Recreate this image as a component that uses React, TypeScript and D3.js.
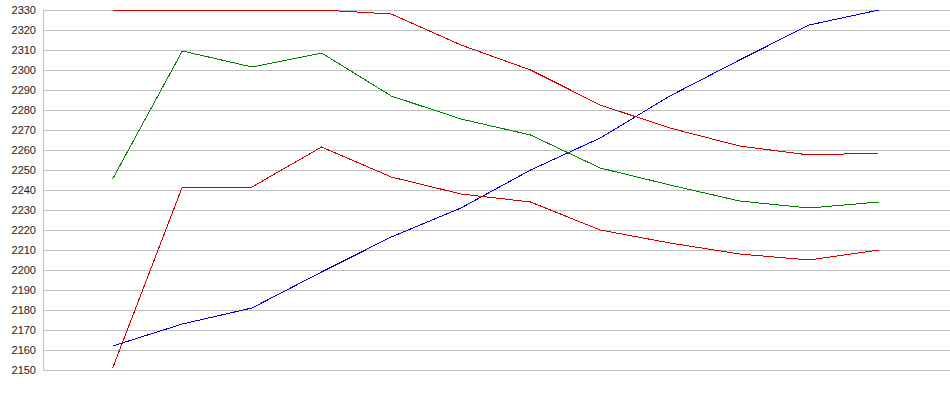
import React from 'react';
import * as d3 from 'd3';

// values, 12 points per series
const steps = d3.range(1, 13);
const redTop = [2330, 2330, 2330, 2330, 2328, 2312.5, 2300, 2282.5, 2271, 2262, 2257.5, 2258.5];
const green = [2245.5, 2309.5, 2301.5, 2308.5, 2287, 2275.5, 2267.5, 2251, 2242.5, 2234.5, 2231, 2234];
const redLow = [2151, 2241.5, 2241.5, 2261.5, 2246.5, 2238, 2234, 2220, 2213.5, 2208, 2205, 2210];
const blue = [2162, 2173, 2181, 2199, 2216.5, 2231, 2250, 2266, 2287, 2305, 2322.5, 2330];
const yTicks = d3.range(2150, 2331, 10);

const series = [
  { name: 'blue', values: blue, color: '#0000cc' },
  { name: 'redLow', values: redLow, color: '#cc0000' },
  { name: 'green', values: green, color: '#008000' },
  { name: 'redTop', values: redTop, color: '#cc0000' },
];

export default function App() {
  const width = 950;
  const height = 395;
  const left = 43;
  const top = 10;
  const bottom = 370;

  const xScale = d3.scaleLinear().domain([0, 13]).range([left, 948.5]);
  const yScale = d3.scaleLinear().domain([2150, 2330]).range([bottom, top]);

  const line = d3
    .line<number>()
    .x((d, i) => xScale(steps[i]))
    .y((d) => yScale(d));

  return (
    <svg
      width={width}
      height={height}
      style={{ position: 'absolute', left: 0, top: 0, background: '#fff' }}
    >
      <g>
        {yTicks.map((t) => (
          <g key={t}>
            <line
              x1={left}
              x2={width}
              y1={yScale(t) + 0.5}
              y2={yScale(t) + 0.5}
              stroke="#c0c0c0"
              strokeWidth={1}
            />
            <text
              x={36}
              y={yScale(t)}
              dy="0.35em"
              textAnchor="end"
              fontFamily="'Liberation Sans', Arial, sans-serif"
              fontSize={11}
              fill="#222"
            >
              {t}
            </text>
          </g>
        ))}
        <line x1={left + 0.5} x2={left + 0.5} y1={top} y2={bottom + 1} stroke="#c0c0c0" />
      </g>
      <g fill="none" strokeWidth={1} shapeRendering="crispEdges">
        {series.map((s) => (
          <path key={s.name} d={line(s.values) || ''} stroke={s.color} />
        ))}
      </g>
    </svg>
  );
}
